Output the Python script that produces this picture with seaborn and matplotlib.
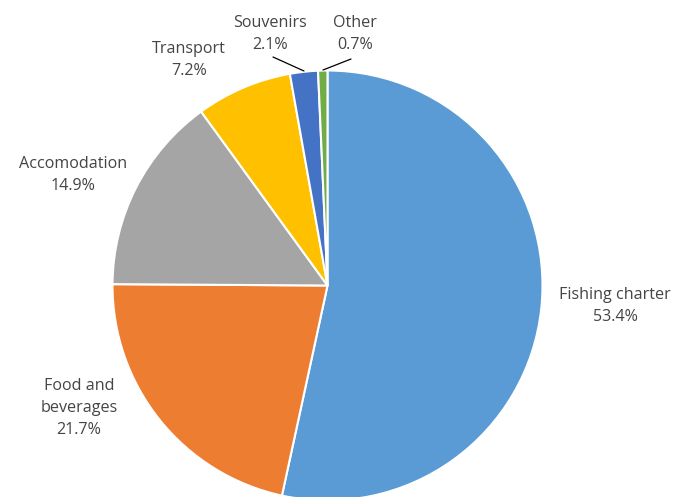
import matplotlib
matplotlib.use("Agg")
from matplotlib import pyplot as plt
import seaborn as sns
import numpy as np

sns.set_theme(style="white")
plt.rcParams["font.family"] = ["Open Sans", "DejaVu Sans"]

categories = ["Fishing charter", "Food and\nbeverages", "Accomodation", "Transport", "Souvenirs", "Other"]
shares = [53.4, 21.7, 14.9, 7.2, 2.1, 0.7]
colors = ["#5B9BD5", "#ED7D31", "#A5A5A5", "#FFC000", "#4472C4", "#70AD47"]

# label placement in pixel coords (top-left origin)
label_pos = [(615, 306), (79, 408), (73, 175), (189, 60), (270, 34), (355, 34)]
leaders = {4: ((273, 57), (304, 71)), 5: ((351, 59), (323, 70))}

W, H = 686, 497
fig = plt.figure(figsize=(W / 100, H / 100), dpi=100)
ax = fig.add_axes([0, 0, 1, 1])
ax.set_xlim(0, W)
ax.set_ylim(0, H)
ax.set_aspect("equal")
ax.axis("off")

ax.pie(shares, colors=colors, startangle=90, counterclock=False,
       center=(327.5, H - 285.5), radius=215,
       wedgeprops=dict(edgecolor="white", linewidth=1.5))

for i, (name, val) in enumerate(zip(categories, shares)):
    x, y = label_pos[i]
    ax.text(x, H - y, f"{name}\n{val:.1f}%", ha="center", va="center",
            fontsize=11.6, color="#454545", linespacing=1.5)
    if i in leaders:
        (x0, y0), (x1, y1) = leaders[i]
        ax.plot([x0, x1], [H - y0, H - y1], color="#000000", lw=0.9)

ax.set_xlim(0, W)
ax.set_ylim(0, H)
fig.savefig("out.png", dpi=100)
